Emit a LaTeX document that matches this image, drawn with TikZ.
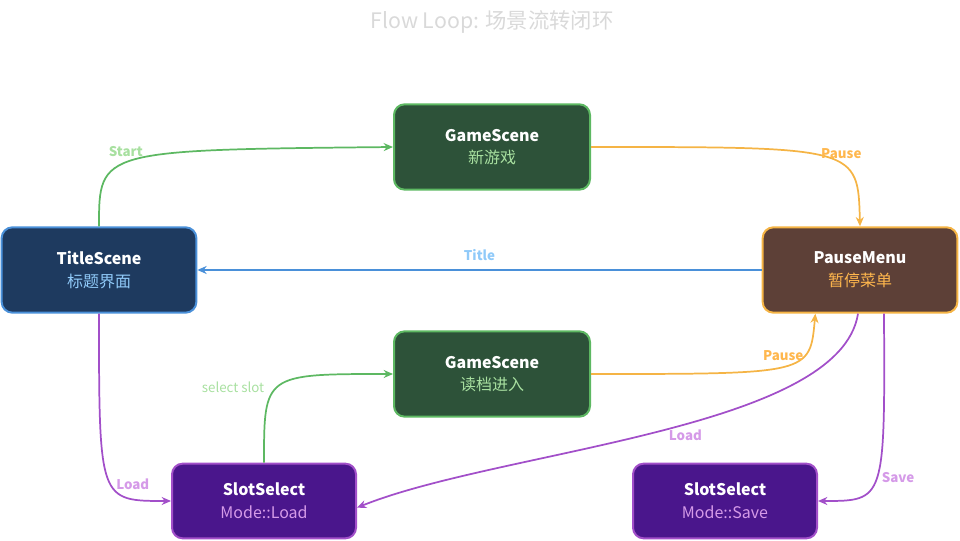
\documentclass[tikz,border=0pt]{standalone}
\usepackage{fontspec}
\setmainfont{Noto Sans CJK SC}
\usetikzlibrary{arrows.meta}
\definecolor{gfill}{HTML}{2D5239}\definecolor{gbord}{HTML}{5DB862}\definecolor{gtxt}{HTML}{A8E0A0}
\definecolor{bfill}{HTML}{1E3A5F}\definecolor{bbord}{HTML}{4A90D9}\definecolor{btxt}{HTML}{90CAF9}
\definecolor{ofill}{HTML}{5D4037}\definecolor{obord}{HTML}{F5B445}\definecolor{otxt}{HTML}{FFB74D}
\definecolor{pfill}{HTML}{4A168C}\definecolor{pbord}{HTML}{A24FC9}\definecolor{ptxt}{HTML}{D59AE8}
\tikzset{
 box/.style={draw,line width=1.5pt,rounded corners=8pt,minimum width=#1,align=center,text=white,font=\fontsize{12}{17}\selectfont},
 conn/.style={line width=1.3pt,-{Stealth[length=7pt,width=6pt]}},
 lab/.style={font=\bfseries\fontsize{10}{12}\selectfont}
}
\begin{document}
\begin{tikzpicture}[x=0.75pt,y=-0.75pt]
\useasboundingbox (0,0) rectangle (960,541);
\node[font=\fontsize{16}{18}\selectfont,text=black!15] (title) at (492,22) {Flow Loop: 场景流转闭环};
\node[box=147pt,minimum height=64pt,fill=gfill,draw=gbord] (g1) at (492,147) {\textbf{GameScene}\\\textcolor{gtxt}{新游戏}};
\node[box=146pt,minimum height=64pt,fill=bfill,draw=bbord] (t) at (99,270) {\textbf{TitleScene}\\\textcolor{btxt}{标题界面}};
\node[box=146pt,minimum height=64pt,fill=ofill,draw=obord] (p) at (860,270) {\textbf{PauseMenu}\\\textcolor{otxt}{暂停菜单}};
\node[box=147pt,minimum height=64pt,fill=gfill,draw=gbord] (g2) at (492,374) {\textbf{GameScene}\\\textcolor{gtxt}{读档进入}};
\node[box=138pt,minimum height=56pt,fill=pfill,draw=pbord] (s1) at (264,501) {\textbf{SlotSelect}\\\textcolor{ptxt}{Mode::Load}};
\node[box=138pt,minimum height=56pt,fill=pfill,draw=pbord] (s2) at (725,501) {\textbf{SlotSelect}\\\textcolor{ptxt}{Mode::Save}};
\draw[conn,gbord] (t.north) .. controls (99,150) .. (g1.west) node[lab,pos=0.45,above,text=gtxt] {Start};
\draw[conn,obord] (g1.east) .. controls (858,147) .. (p.north) node[lab,pos=0.6,above,text=otxt] {Pause};
\draw[conn,bbord] (p.west) -- (t.east) node[lab,midway,above=3pt,text=btxt] {Title};
\draw[conn,pbord] (t.south) .. controls (99,501) .. (s1.west) node[lab,pos=0.55,right,text=ptxt] {Load};
\draw[conn,gbord] (s1.north) .. controls (264,374) .. (g2.west) node[lab,pos=0.35,above left,text=gtxt,font=\fontsize{10}{12}\selectfont] {select slot};
\draw[conn,obord] (g2.east) .. controls (810,374) .. ([xshift=-50pt*0.75/0.75*0.67]p.south) node[lab,pos=0.5,above,text=otxt] {Pause};
\draw[conn,pbord] ([xshift=-1.5pt]p.south) .. controls (840,430) and (500,450) .. ([yshift=-5pt]s1.east) node[lab,pos=0.45,below,text=ptxt] {Load};
\draw[conn,pbord] ([xshift=18pt]p.south) .. controls (885,501) .. (s2.east) node[lab,pos=0.5,right,text=ptxt] {Save};
\end{tikzpicture}
\end{document}
